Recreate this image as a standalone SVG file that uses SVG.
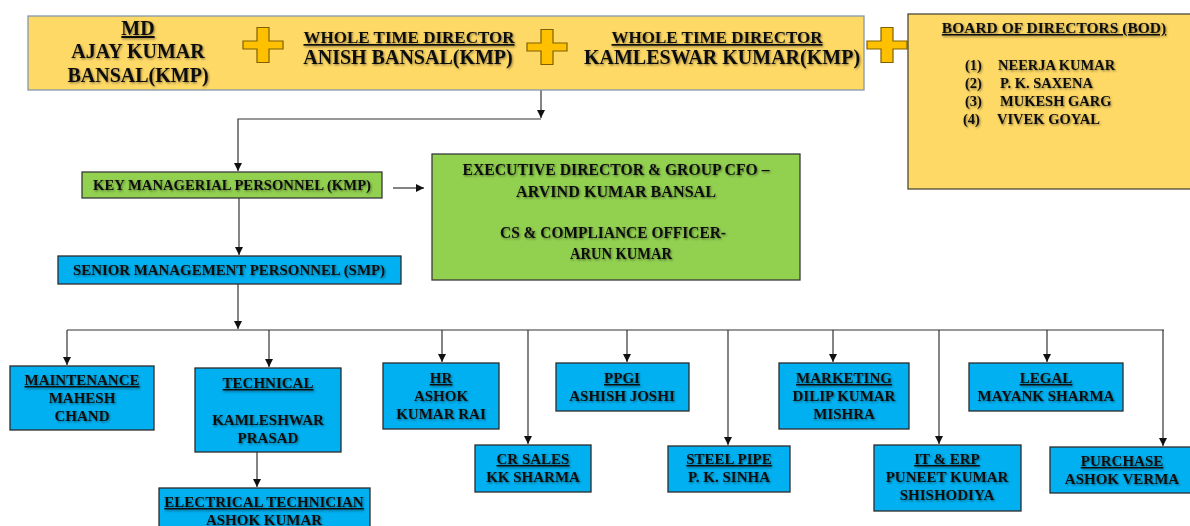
<svg xmlns="http://www.w3.org/2000/svg" width="1190" height="526" viewBox="0 0 1190 526">
  <defs>
    <style>
      .t { font-family: "Liberation Serif", "Times New Roman", serif; font-weight: bold; fill: #111; text-anchor: middle; filter: url(#shadow); }
      .u { text-decoration: underline; }
      .top { fill: #FFD966; stroke: #8497B0; stroke-width: 1.3; }
      .bod { fill: #FFD966; stroke: #4a4a3a; stroke-width: 1.3; }
      .green { fill: #92D050; stroke: #3a3a3a; stroke-width: 1.3; }
      .blue { fill: #00B0F0; stroke: #2b2b2b; stroke-width: 1.3; }
      .plus { fill: #FFC000; stroke: #7F6000; stroke-width: 1.2; }
      .conn { fill: none; stroke: #333; stroke-width: 1.2; }
      .conn-arrow { marker-end: url(#arrow); }
    </style>
    <filter id="shadow" x="-10%" y="-30%" width="120%" height="160%">
      <feDropShadow dx="1" dy="1.2" stdDeviation="0.8" flood-color="#000" flood-opacity="0.45"/>
    </filter>
    <marker id="arrow" viewBox="0 0 10 10" refX="10" refY="5" markerUnits="userSpaceOnUse" markerWidth="8" markerHeight="8" orient="auto">
      <path d="M0,0 L10,5 L0,10 z" fill="#111"/>
    </marker>
    <path id="plus" class="plus" d="M-6,-17.5 h12 v13.5 h14 v8 h-14 v13.5 h-12 v-13.5 h-14 v-8 h14 z"/>
  </defs>

  <rect width="1190" height="526" fill="#ffffff"/>

  <!-- connectors -->
  <g id="connectors">
    <path class="conn conn-arrow" d="M541,90 V118"/>
    <path class="conn conn-arrow" d="M541,119 H238 V171"/>
    <path class="conn conn-arrow" d="M393,188 H424"/>
    <path class="conn conn-arrow" d="M239,198 V255"/>
    <path class="conn conn-arrow" d="M238,284 V329"/>
    <path class="conn" d="M67,330 H1164"/>
    <path class="conn conn-arrow" d="M67,330 V365"/>
    <path class="conn conn-arrow" d="M269,330 V367"/>
    <path class="conn conn-arrow" d="M442,330 V362"/>
    <path class="conn conn-arrow" d="M528,330 V444"/>
    <path class="conn conn-arrow" d="M627,330 V362"/>
    <path class="conn conn-arrow" d="M728,330 V445"/>
    <path class="conn conn-arrow" d="M833,330 V362"/>
    <path class="conn conn-arrow" d="M939,330 V444"/>
    <path class="conn conn-arrow" d="M1047,330 V362"/>
    <path class="conn conn-arrow" d="M1163,330 V446"/>
    <path class="conn conn-arrow" d="M257,452 V487"/>
  </g>

  <!-- leadership band -->
  <g id="leadership">
    <rect class="top" x="28" y="16" width="836" height="74"/>
    <text class="t u" x="138" y="35" font-size="20">MD</text>
    <text class="t" x="138" y="58" font-size="20">AJAY KUMAR</text>
    <text class="t" x="138" y="82" font-size="20">BANSAL(KMP)</text>
    <use href="#plus" x="263" y="45"/>
    <text class="t u" x="409" y="43" font-size="17">WHOLE TIME DIRECTOR</text>
    <text class="t" x="408" y="64" font-size="20">ANISH BANSAL(KMP)</text>
    <use href="#plus" x="547" y="47"/>
    <text class="t u" x="717" y="43" font-size="17">WHOLE TIME DIRECTOR</text>
    <text class="t" x="722" y="64" font-size="20">KAMLESWAR KUMAR(KMP)</text>
    <use href="#plus" x="887" y="45"/>
  </g>

  <g id="bod">
    <rect class="bod" x="908" y="14" width="300" height="175"/>
    <text class="t u" x="1054" y="33" font-size="15.5">BOARD OF DIRECTORS (BOD)</text>
    <g class="t" font-size="14.5" style="text-anchor:start">
      <text x="965" y="70">(1)</text><text x="998" y="70">NEERJA KUMAR</text>
      <text x="965" y="88">(2)</text><text x="1000" y="88">P. K. SAXENA</text>
      <text x="965" y="106">(3)</text><text x="1000" y="106">MUKESH GARG</text>
      <text x="963" y="124">(4)</text><text x="997" y="124">VIVEK GOYAL</text>
    </g>
  </g>

  <g id="kmp">
    <rect class="green" x="82" y="172" width="300" height="26"/>
    <text class="t" x="232" y="190" font-size="15" textLength="278" lengthAdjust="spacingAndGlyphs">KEY MANAGERIAL PERSONNEL (KMP)</text>
  </g>

  <g id="kmp-officers">
    <rect class="green" x="432" y="154" width="368" height="126"/>
    <g class="t" font-size="17">
      <text x="616" y="175" textLength="307" lengthAdjust="spacingAndGlyphs">EXECUTIVE DIRECTOR &amp; GROUP CFO –</text>
      <text x="616" y="197" textLength="200" lengthAdjust="spacingAndGlyphs">ARVIND KUMAR BANSAL</text>
      <text x="613" y="238" textLength="226" lengthAdjust="spacingAndGlyphs">CS &amp; COMPLIANCE OFFICER-</text>
      <text x="621" y="259" textLength="102" lengthAdjust="spacingAndGlyphs">ARUN KUMAR</text>
    </g>
  </g>

  <g id="smp">
    <rect class="blue" x="58" y="256" width="343" height="28"/>
    <text class="t" x="229" y="275" font-size="15" textLength="312" lengthAdjust="spacingAndGlyphs">SENIOR MANAGEMENT PERSONNEL (SMP)</text>
  </g>

  <!-- departments -->
  <g id="maintenance">
    <rect class="blue" x="10" y="366" width="144" height="64"/>
    <text class="t u" x="82" y="385" font-size="15">MAINTENANCE</text>
    <text class="t" x="82" y="403" font-size="15">MAHESH</text>
    <text class="t" x="82" y="421" font-size="15">CHAND</text>
  </g>
  <g id="technical">
    <rect class="blue" x="195" y="368" width="146" height="84"/>
    <text class="t u" x="268" y="388" font-size="15">TECHNICAL</text>
    <text class="t" x="268" y="425" font-size="15">KAMLESHWAR</text>
    <text class="t" x="268" y="443" font-size="15">PRASAD</text>
  </g>
  <g id="electrical">
    <rect class="blue" x="159" y="488" width="211" height="50"/>
    <text class="t u" x="264" y="507" font-size="15">ELECTRICAL TECHNICIAN</text>
    <text class="t" x="264" y="525" font-size="15">ASHOK KUMAR</text>
  </g>
  <g id="hr">
    <rect class="blue" x="383" y="363" width="116" height="66"/>
    <text class="t u" x="441" y="383" font-size="15">HR</text>
    <text class="t" x="441" y="401" font-size="15">ASHOK</text>
    <text class="t" x="441" y="419" font-size="15">KUMAR RAI</text>
  </g>
  <g id="cr-sales">
    <rect class="blue" x="475" y="445" width="116" height="47"/>
    <text class="t u" x="533" y="464" font-size="15">CR SALES</text>
    <text class="t" x="533" y="482" font-size="15">KK SHARMA</text>
  </g>
  <g id="ppgi">
    <rect class="blue" x="556" y="363" width="133" height="48"/>
    <text class="t u" x="622" y="383" font-size="15">PPGI</text>
    <text class="t" x="622" y="401" font-size="15">ASHISH JOSHI</text>
  </g>
  <g id="steel-pipe">
    <rect class="blue" x="668" y="446" width="122" height="46"/>
    <text class="t u" x="729" y="464" font-size="15">STEEL PIPE</text>
    <text class="t" x="729" y="482" font-size="15">P. K. SINHA</text>
  </g>
  <g id="marketing">
    <rect class="blue" x="779" y="363" width="130" height="66"/>
    <text class="t u" x="844" y="383" font-size="15">MARKETING</text>
    <text class="t" x="844" y="401" font-size="15">DILIP KUMAR</text>
    <text class="t" x="844" y="419" font-size="15">MISHRA</text>
  </g>
  <g id="it-erp">
    <rect class="blue" x="874" y="445" width="147" height="66"/>
    <text class="t u" x="947" y="464" font-size="15">IT &amp; ERP</text>
    <text class="t" x="947" y="482" font-size="15">PUNEET KUMAR</text>
    <text class="t" x="947" y="500" font-size="15">SHISHODIYA</text>
  </g>
  <g id="legal">
    <rect class="blue" x="969" y="363" width="154" height="48"/>
    <text class="t u" x="1046" y="383" font-size="15">LEGAL</text>
    <text class="t" x="1046" y="401" font-size="15">MAYANK SHARMA</text>
  </g>
  <g id="purchase">
    <rect class="blue" x="1050" y="447" width="150" height="46"/>
    <text class="t u" x="1122" y="466" font-size="15">PURCHASE</text>
    <text class="t" x="1122" y="484" font-size="15">ASHOK VERMA</text>
  </g>
</svg>
